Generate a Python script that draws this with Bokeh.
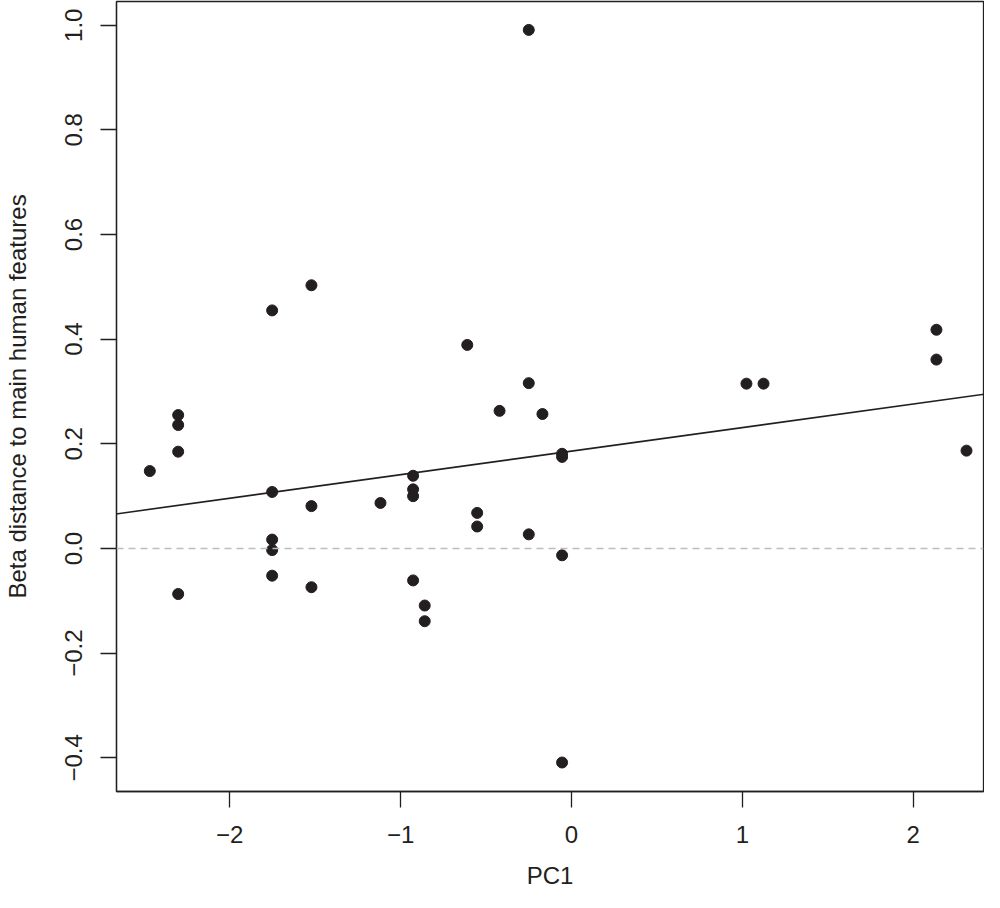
from bokeh.plotting import figure
from bokeh.models import Range1d, FixedTicker, Slope, Span, ColumnDataSource
from bokeh.embed import file_html
from bokeh.resources import INLINE

# ---- data ----
pc1 = [-2.468, -2.302, -2.302, -2.302, -2.302,
       -1.752, -1.752, -1.752, -1.752, -1.752,
       -1.522, -1.522, -1.522, -1.118,
       -0.927, -0.927, -0.927, -0.927, -0.859, -0.859,
       -0.610, -0.552, -0.552, -0.421,
       -0.250, -0.250, -0.250, -0.170,
       -0.055, -0.055, -0.055, -0.055,
       1.024, 1.124, 2.136, 2.136, 2.312]
beta = [0.148, 0.255, 0.236, 0.185, -0.087,
        0.455, 0.108, 0.017, -0.003, -0.052,
        0.503, 0.081, -0.074, 0.087,
        0.139, 0.113, 0.100, -0.061, -0.109, -0.139,
        0.389, 0.068, 0.042, 0.263,
        0.991, 0.316, 0.027, 0.257,
        0.181, 0.175, -0.013, -0.409,
        0.315, 0.315, 0.418, 0.361, 0.187]

fit_intercept = 0.186
fit_slope = 0.0450

x_ticks = [-2, -1, 0, 1, 2]
x_tick_labels = ["\u22122", "\u22121", "0", "1", "2"]
y_ticks = [-0.4, -0.2, 0.0, 0.2, 0.4, 0.6, 0.8, 1.0]
y_tick_labels = ["\u22120.4", "\u22120.2", "0.0", "0.2", "0.4", "0.6", "0.8", "1.0"]
x_title = "PC1"
y_title = "Beta distance to main human features"

INK = "#231f20"
FONT = "Liberation Sans"

p = figure(width=984, height=892, output_backend="svg", toolbar_location=None,
           x_range=Range1d(-2.663, 2.4115), y_range=Range1d(-0.4644, 1.0453),
           min_border_left=116, min_border_right=1, min_border_top=1, min_border_bottom=101)
p.xgrid.visible = False
p.ygrid.visible = False
p.outline_line_color = INK
p.outline_line_width = 1.3
p.background_fill_color = "white"

src = ColumnDataSource(dict(x=pc1, y=beta))
p.scatter("x", "y", source=src, size=11, fill_color=INK, line_color=INK)

p.add_layout(Span(location=0, dimension="width", line_color="#bdbdbd",
                  line_dash="7 5", line_width=1.3))
p.add_layout(Slope(gradient=fit_slope, y_intercept=fit_intercept,
                   line_color=INK, line_width=1.6))

for ax, ticks, labels in ((p.xaxis[0], x_ticks, x_tick_labels),
                          (p.yaxis[0], y_ticks, y_tick_labels)):
    ax.ticker = FixedTicker(ticks=ticks)
    ax.major_label_overrides = {t: l for t, l in zip(ticks, labels)}
    ax.minor_tick_line_color = None
    ax.major_tick_in = 0
    ax.major_tick_out = 16
    ax.major_tick_line_color = INK
    ax.major_tick_line_width = 1.3
    ax.axis_line_color = INK
    ax.axis_line_width = 1.3
    ax.major_label_text_font = FONT
    ax.major_label_text_font_size = "24px"
    ax.major_label_text_color = INK
    ax.axis_label_text_font = FONT
    ax.axis_label_text_font_size = "24px"
    ax.axis_label_text_font_style = "normal"
    ax.axis_label_text_color = INK

p.xaxis.axis_label = x_title
p.yaxis.axis_label = y_title
p.yaxis.major_label_orientation = "vertical"
p.xaxis.major_label_standoff = 18
p.yaxis.major_label_standoff = 18
p.xaxis.axis_label_standoff = 16
p.yaxis.axis_label_standoff = 32

open("out.html", "w").write(file_html(p, INLINE))
